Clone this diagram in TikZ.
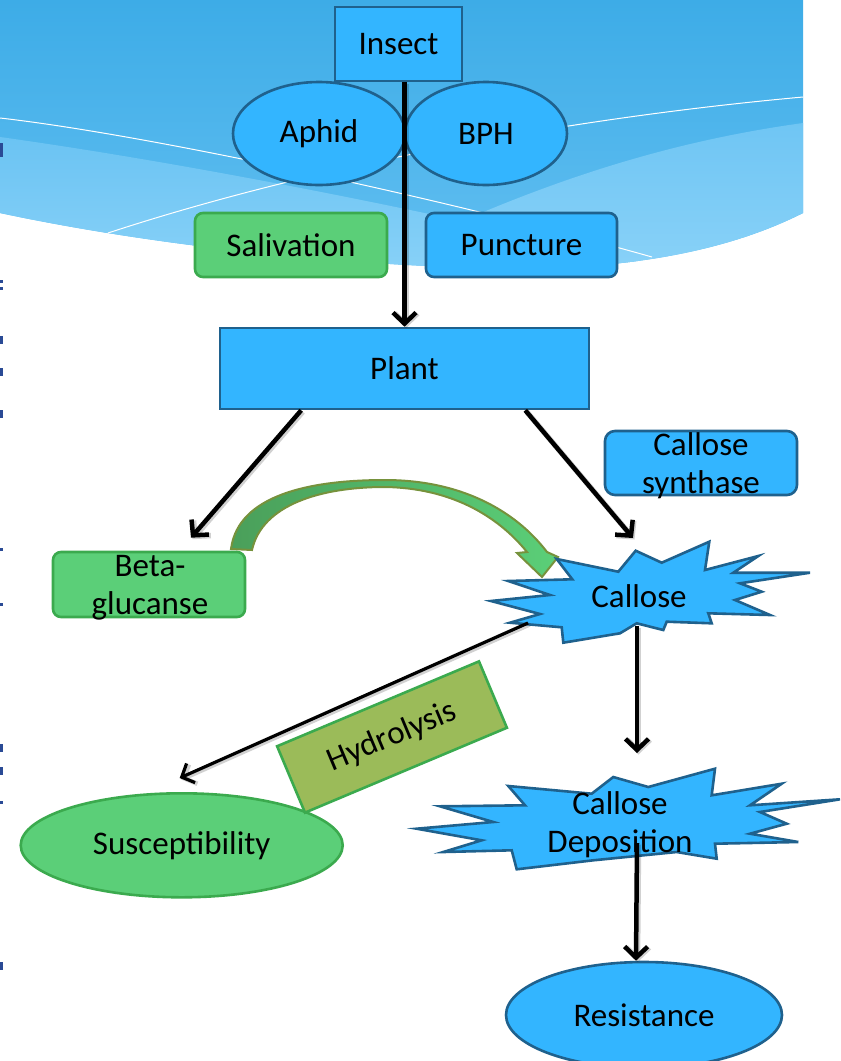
\documentclass[tikz,border=0pt]{standalone}
\usepackage{fontspec}
\setmainfont{Carlito}
\usetikzlibrary{shapes.geometric,arrows.meta,calc}
\definecolor{nodeblue}{HTML}{33B5FF}
\definecolor{blueline}{HTML}{1F618D}
\definecolor{nodegreen}{HTML}{5BCF78}
\definecolor{greenline}{HTML}{3BAA4E}
\definecolor{olivefill}{HTML}{9BBB59}
\definecolor{arrowgreenline}{HTML}{76923C}
\definecolor{darkgreen}{HTML}{4A9F5A}
\definecolor{bgtop}{HTML}{3DACE7}
\definecolor{bgmid}{HTML}{62BFF1}
\definecolor{bglight}{HTML}{8ED4F9}
\definecolor{textfrag}{HTML}{2A4A95}
\begin{document}
\begin{tikzpicture}[x=1pt,y=-1pt,
  every node/.style={font=\fontsize{33}{38}\selectfont, text=black},
  bluebox/.style={draw=blueline, fill=nodeblue, line width=2.6pt, inner sep=0pt},
  greenbox/.style={draw=greenline, fill=nodegreen, line width=2.6pt, inner sep=0pt, rounded corners=8pt},
  blueell/.style={ellipse, draw=blueline, fill=nodeblue, line width=2.6pt, inner sep=0pt},
  greenell/.style={ellipse, draw=greenline, fill=nodegreen, line width=2.6pt, inner sep=0pt},
  olivebox/.style={draw=greenline, fill=olivefill, line width=2.6pt, inner sep=0pt},
  starshape/.style={draw=blueline, fill=nodeblue, line width=2.6pt, line join=miter},
  arr/.style={line width=4.5pt, -{Straight Barb[length=11pt,width=23pt]},
    preaction={draw=black, draw opacity=0.18, line width=5.5pt, transform canvas={shift={(1.5pt,-1.5pt)}}}},
  thinarr/.style={line width=3.2pt, -{Straight Barb[length=10pt,width=21pt]},
    preaction={draw=black, draw opacity=0.18, line width=4.5pt, transform canvas={shift={(1.5pt,-1.5pt)}}}},
  wline/.style={white, line width=1pt},
  frag/.style={fill=textfrag}
]
\useasboundingbox (0,0) rectangle (841,1061);

% background wave
\path[top color=bgtop, bottom color=bgmid] (0,0) -- (803,0) -- (803,213) .. controls (720,255) and (610,272) .. (480,268) .. controls (330,264) and (150,245) .. (0,213) -- cycle;
\begin{scope}
  \clip (0,0) -- (803,0) -- (803,213) .. controls (720,255) and (610,272) .. (480,268) .. controls (330,264) and (150,245) .. (0,213) -- cycle;
  \path[top color=bgmid!80!bglight, bottom color=bglight] (0,137) .. controls (200,165) and (450,215) .. (700,275) -- (0,300) -- cycle;
  \path[top color=bgmid!70!bglight, bottom color=bglight] (803,123) .. controls (680,140) and (560,175) .. (420,240) -- (420,300) -- (803,300) -- cycle;
\end{scope}
\draw[wline] (0,118) .. controls (150,135) and (450,200) .. (652,257);
\draw[wline] (108,233) .. controls (300,170) and (550,120) .. (803,97);

% left edge fragments
\foreach \yy/\hh in {150/14, 281/3, 288/3, 340/8, 372/8, 414/8, 549/3, 604/3, 748/8, 771/8, 802/3, 966/8}
  \fill[frag] (0,\yy-\hh/2) rectangle (2.5,\yy+\hh/2);

% top nodes
\node[bluebox, minimum width=127pt, minimum height=74pt] (insect) at (398.5,44) {Insect};
\node[blueell, minimum width=172pt, minimum height=103pt] (aphid) at (319,133.5) {Aphid};
\node[blueell, minimum width=162pt, minimum height=103pt] (bph) at (486,133.5) {BPH};
\node[greenbox, minimum width=192pt, minimum height=64pt] (saliv) at (291,245) {Salivation};
\node[bluebox, rounded corners=8pt, minimum width=191pt, minimum height=64pt] (punct) at (521.5,245) {Puncture};
\node[bluebox, minimum width=369pt, minimum height=81pt] (plant) at (404.5,368.5) {Plant};
\node[bluebox, rounded corners=10pt, minimum width=192pt, minimum height=64pt] (synth) at (701,463) {};
\node[align=center] (synthtext) at (701,466) {Callose\\synthase};
\node[greenbox, minimum width=192pt, minimum height=65pt] (beta) at (149,584.5) {};
\node[align=center] (betatext) at (150,588) {Beta-\\glucanse};

% curved green arrow
\draw[draw=arrowgreenline, line width=2pt, line join=miter, left color=darkgreen, right color=nodegreen]
  (231,549) .. controls (238,495) and (310,480) .. (385,480) .. controls (460,480) and (515,510) .. (547,552)
  -- (558,557) -- (542,577) -- (517,553) -- (527,552)
  .. controls (497,515) and (450,488) .. (385,487) .. controls (320,487) and (262,505) .. (252,550) -- cycle;

% Callose star
\draw[starshape] (556.7,559) -- (572.3,579.3) -- (508.3,581) -- (550,595) -- (491,601) -- (540,614) -- (510,622.7) -- (561.7,627.3) -- (563.3,642.7) -- (620,633.3) -- (636.7,623.3) -- (663.3,630) -- (666.7,621.7) -- (711.7,623.3) -- (708.3,613.3) -- (770,615) -- (735,600) -- (761.7,591.7) -- (740,583.3) -- (810,572.7) -- (733.3,572.7) -- (758.3,556) -- (705,570) -- (709.3,541.7) -- (661.7,562.7) -- (635.7,550.7) -- (618.3,571.7) -- cycle;
\node (callose) at (639,596) {Callose};

% Callose Deposition star
\draw[starshape] (613.3,777) -- (648.3,787) -- (715,768.7) -- (711.7,795.3) -- (781.7,783.7) -- (750,805.3) -- (840,799.3) -- (760,812) -- (786.7,823.7) -- (750,833.7) -- (798.3,842) -- (715,843.7) -- (716.7,858.7) -- (676.7,852) -- (593.3,860.3) -- (516.7,869.3) -- (511.7,850.3) -- (443.3,852) -- (481.7,840.3) -- (416.7,828.7) -- (493.3,822) -- (440,806.3) -- (525,805.3) -- (508.3,786) -- (591.7,793.7) -- cycle;
\node[align=center] (depo) at (620,825) {Callose\\Deposition};

% bottom nodes
\node[greenell, minimum width=322pt, minimum height=104pt] (susc) at (181.7,845.3) {Susceptibility};
\node[olivebox, rotate=22.8, minimum width=219pt, minimum height=72pt] (hydro) at (392,737) {Hydrolysis};
\node[blueell, minimum width=276pt, minimum height=106pt] (resist) at (644,1015) {Resistance};

% connectors
\draw[arr] (insect.south -| plant.north) -- (plant.north);
\coordinate (pl1) at ($(plant.south west)!0.222!(plant.south east)$);
\coordinate (pl2) at ($(plant.south west)!0.825!(plant.south east)$);
\draw[arr] (pl1) -- ($(beta.north)+(42,-13)$);
\draw[arr] (pl2) -- ($(callose)+(-6,-58)$);
\draw[arr] ($(callose)+(-2,30)$) -- ($(depo)+(17,-72)$);
\draw[arr] ($(depo)+(17,18)$) -- ($(resist.north)+(-8,0)$);
\draw[thinarr] ($(callose)+(-111,27)$) -- ($(susc.north)+(-2,-14)$);
\end{tikzpicture}
\end{document}
